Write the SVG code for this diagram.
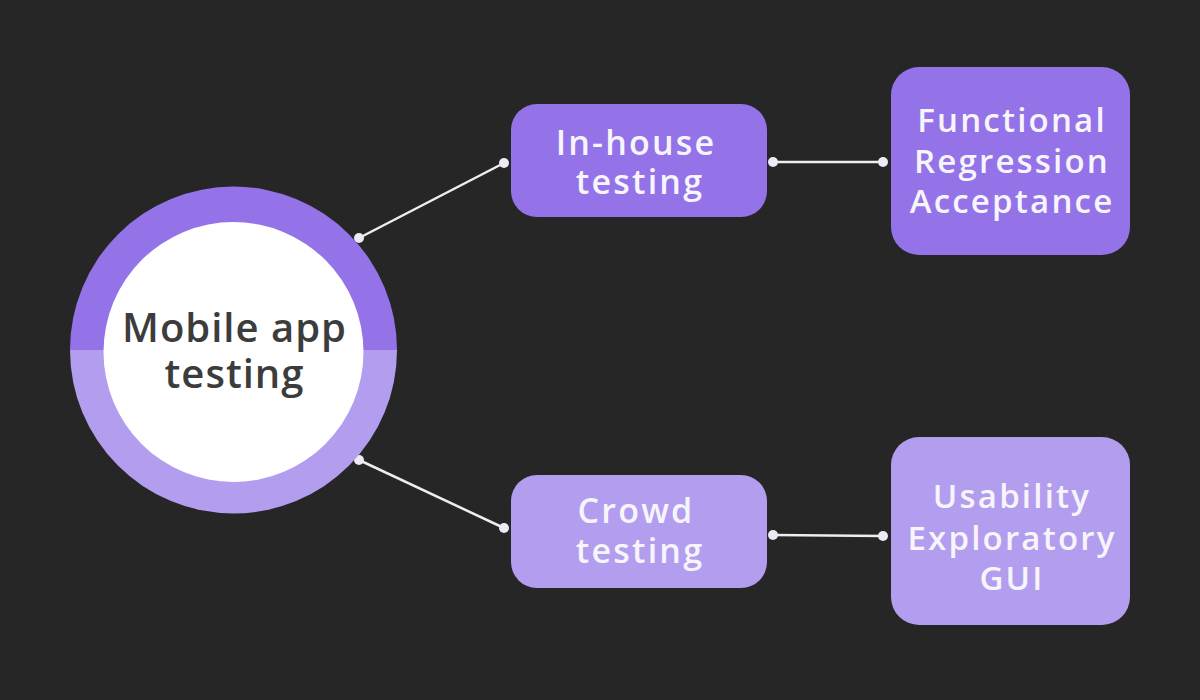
<svg xmlns="http://www.w3.org/2000/svg" width="1200" height="700" viewBox="0 0 1200 700">
<defs>
<style>
.bg{fill:#262626}
.dark{fill:#9473E9}
.light{fill:#B39DEF}
.t{font-family:"Open Sans","Liberation Sans",sans-serif;font-weight:600;fill:#F7F5FC;text-anchor:middle;letter-spacing:2.2px}
.c{font-family:"Open Sans","Liberation Sans",sans-serif;font-weight:600;fill:#3C3C3C;text-anchor:middle;font-size:40px;letter-spacing:1px}
.ln{stroke:#EEEEEE;stroke-width:2.5;fill:none}
.dot{fill:#EEEAF5}
</style>
<clipPath id="top"><rect x="0" y="0" width="1200" height="350"/></clipPath>
<clipPath id="bot"><rect x="0" y="350" width="1200" height="350"/></clipPath>
</defs>
<rect class="bg" x="0" y="0" width="1200" height="700"/>
<g id="connectors">
<line class="ln" x1="359" y1="238" x2="504" y2="163"/>
<line class="ln" x1="773" y1="162" x2="883" y2="162"/>
<line class="ln" x1="359" y1="460" x2="504" y2="528"/>
<line class="ln" x1="773" y1="535" x2="883" y2="536"/>
<circle class="dot" cx="359" cy="238" r="5"/>
<circle class="dot" cx="504" cy="163" r="5"/>
<circle class="dot" cx="773" cy="162" r="5"/>
<circle class="dot" cx="883" cy="162" r="5"/>
<circle class="dot" cx="359" cy="460" r="5"/>
<circle class="dot" cx="504" cy="528" r="5"/>
<circle class="dot" cx="773" cy="535" r="5"/>
<circle class="dot" cx="883" cy="536" r="5"/>
</g>
<g id="mobile-app-testing">
<circle class="dark" cx="233.5" cy="350" r="163.5" clip-path="url(#top)"/>
<circle class="light" cx="233.5" cy="350" r="163.5" clip-path="url(#bot)"/>
<circle cx="233.5" cy="352" r="130" fill="#FFFFFF"/>
<text class="c" x="234.5" y="342">Mobile app</text>
<text class="c" x="234.5" y="388">testing</text>
</g>
<g id="in-house-testing">
<rect class="dark" x="511" y="104" width="256" height="113" rx="26"/>
<text class="t" x="636" y="155" font-size="34">In-house</text>
<text class="t" x="640" y="194" font-size="34">testing</text>
</g>
<g id="functional">
<rect class="dark" x="891" y="67" width="239" height="188" rx="28"/>
<text class="t" x="1012" y="132" font-size="33">Functional</text>
<text class="t" x="1012" y="173" font-size="33">Regression</text>
<text class="t" x="1012" y="213" font-size="33">Acceptance</text>
</g>
<g id="crowd-testing">
<rect class="light" x="511" y="475" width="256" height="113" rx="26"/>
<text class="t" x="636" y="523" font-size="34">Crowd</text>
<text class="t" x="640" y="563" font-size="34">testing</text>
</g>
<g id="usability">
<rect class="light" x="891" y="437" width="239" height="188" rx="28"/>
<text class="t" x="1012" y="508" font-size="33">Usability</text>
<text class="t" x="1012" y="550" font-size="33">Exploratory</text>
<text class="t" x="1012" y="590" font-size="33">GUI</text>
</g>
</svg>
